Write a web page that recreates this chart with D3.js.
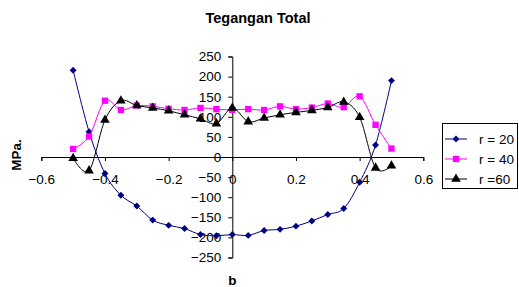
<!DOCTYPE html>
<html>
<head>
<meta charset="utf-8">
<script src="https://cdn.jsdelivr.net/npm/d3@7"></script>
<style>
  body { margin: 0; background: #fff; }
  svg { font-family: Arial, "Liberation Sans", sans-serif; }
</style>
</head>
<body>
<div id="chart"></div>
<script>
// x positions (b) shared by all series
const bValues = [-0.5, -0.45, -0.4, -0.35, -0.3, -0.25, -0.2, -0.15, -0.1, -0.05, 0,
  0.05, 0.1, 0.15, 0.2, 0.25, 0.3, 0.35, 0.4, 0.45, 0.5];

// series values (MPa)
const r20 = [216, 63, -41, -95, -122, -157, -170, -178, -193, -196, -193,
  -195, -183, -180, -172, -159, -143, -128, -63, 30, 190];
const r40 = [20, 51, 140, 117, 128, 126, 120, 117, 122, 119, 117,
  119, 117, 126, 119, 123, 133, 124, 151, 80, 21];
const r60 = [-3, -34, 92, 140, 128, 122, 115, 105, 95, 83, 122,
  88, 97, 105, 111, 116, 123, 137, 99, -27, -22];

const xTicks = [-0.6, -0.4, -0.2, 0, 0.2, 0.4, 0.6];
const yTicks = [-250, -200, -150, -100, -50, 0, 50, 100, 150, 200, 250];

const seriesNames = ["r = 20", "r = 40", "r =60"];
const seriesColors = ["#000080", "#FF00FF", "#000000"];
// diamond = square turned 45 degrees, like Excel's marker
const seriesShapes = [d3.symbolSquare, d3.symbolSquare, d3.symbolTriangle];
const seriesRotate = [45, 0, 0];
const seriesSizes = [24, 40, 40];

const width = 519, height = 287;
const tickFont = "13.5px";

const svg = d3.select("#chart")
  .append("svg")
  .attr("width", width)
  .attr("height", height);

const x = d3.scaleLinear().domain([-0.6, 0.6]).range([41.3, 423.3]);
const y = d3.scaleLinear().domain([-250, 250]).range([257.5, 56.5]);

// title
svg.append("text")
  .attr("x", 258)
  .attr("y", 23)
  .attr("text-anchor", "middle")
  .style("font-weight", "bold")
  .style("font-size", "14.5px")
  .text("Tegangan Total");

// x axis at y = 0
const xAxis = svg.append("g")
  .attr("transform", `translate(0,${y(0)})`)
  .call(d3.axisBottom(x).tickValues(xTicks).tickSize(4).tickFormat(d3.format("")));
xAxis.select(".domain").attr("stroke", "#000");
xAxis.selectAll(".tick line").attr("stroke", "#000");
xAxis.selectAll(".tick text")
  .attr("y", 17)
  .style("font-size", tickFont)
  .style("font-family", "Arial, 'Liberation Sans', sans-serif");

// y axis at x = 0
const yAxis = svg.append("g")
  .attr("transform", `translate(${x(0)},0)`)
  .call(d3.axisLeft(y).tickValues(yTicks).tickSize(4).tickPadding(7));
yAxis.select(".domain").attr("stroke", "#000");
yAxis.selectAll(".tick line").attr("stroke", "#000");
yAxis.selectAll(".tick text")
  .style("font-size", tickFont)
  .style("font-family", "Arial, 'Liberation Sans', sans-serif");

// axis titles
svg.append("text")
  .attr("transform", "translate(21,155) rotate(-90)")
  .attr("text-anchor", "middle")
  .style("font-weight", "bold")
  .style("font-size", "13.5px")
  .text("MPa.");

svg.append("text")
  .attr("x", x(0))
  .attr("y", 285)
  .attr("text-anchor", "middle")
  .style("font-weight", "bold")
  .style("font-size", "13.5px")
  .text("b");

// series
const allSeries = [r20, r40, r60];
const line = d3.line()
  .x(d => x(d.b))
  .y(d => y(d.v))
  .curve(d3.curveCardinal.tension(0));

allSeries.forEach((vals, i) => {
  const pts = bValues.map((b, j) => ({ b: b, v: vals[j] }));
  svg.append("path")
    .datum(pts)
    .attr("fill", "none")
    .attr("stroke", seriesColors[i])
    .attr("stroke-width", 1)
    .attr("d", line);

  svg.selectAll(`.m${i}`)
    .data(pts)
    .enter()
    .append("path")
    .attr("class", `m${i}`)
    .attr("transform", d => `translate(${x(d.b)},${y(d.v)}) rotate(${seriesRotate[i]})`)
    .attr("d", d3.symbol().type(seriesShapes[i]).size(seriesSizes[i]))
    .attr("fill", seriesColors[i]);
});

// legend
const legend = svg.append("g");
legend.append("rect")
  .attr("x", 442.5)
  .attr("y", 123.5)
  .attr("width", 75)
  .attr("height", 65)
  .attr("fill", "#fff")
  .attr("stroke", "#000");

seriesNames.forEach((name, i) => {
  const ly = 139 + i * 20;
  legend.append("line")
    .attr("x1", 445).attr("x2", 467)
    .attr("y1", ly).attr("y2", ly)
    .attr("stroke", seriesColors[i]);
  legend.append("path")
    .attr("transform", `translate(456,${ly}) rotate(${seriesRotate[i]})`)
    .attr("d", d3.symbol().type(seriesShapes[i]).size(seriesSizes[i]))
    .attr("fill", seriesColors[i]);
  legend.append("text")
    .attr("x", 479)
    .attr("y", ly + 5)
    .style("font-size", tickFont)
    .text(name);
});
</script>
</body>
</html>
